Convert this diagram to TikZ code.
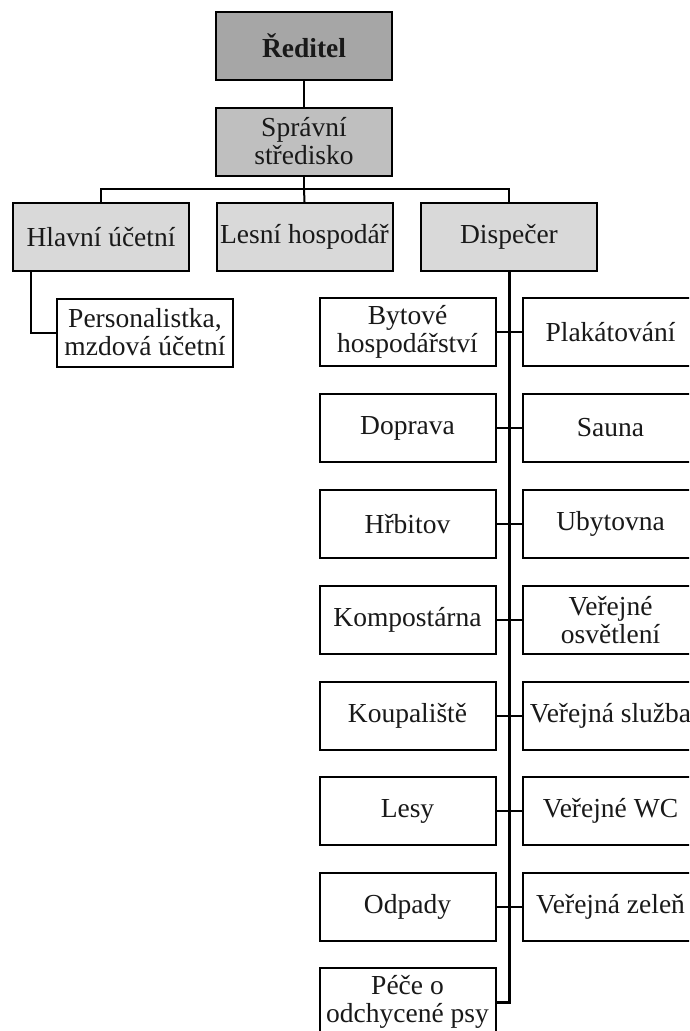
\documentclass[tikz,border=0pt]{standalone}
\usepackage{fontspec}
\setmainfont{Liberation Serif}
\begin{document}
\begin{tikzpicture}[x=1pt,y=-1pt,
  box/.style={draw=black,line width=2pt,minimum width=176pt,minimum height=68pt,inner sep=0pt,align=center,font=\fontsize{27.5}{28}\selectfont,text=black!90},
  dark/.style={box,fill=black!35},
  mid/.style={box,fill=black!25},
  light/.style={box,fill=black!15},
  white/.style={box,fill=white},
  conn/.style={draw=black,line width=2pt},
  trunk/.style={draw=black,line width=3pt}]
\useasboundingbox (0,0) rectangle (689,1031);
\clip (0,0) rectangle (689,1031);
\node[dark] (red) at (304,45.5) {\textbf{Ředitel}};
\node[mid] (spr) at (304,141.5) {Správní\\středisko};
\node[light] (hl) at (101,237) {Hlavní účetní};
\node[light] (les) at (304.5,237) {Lesní hospodář};
\node[light] (disp) at (509,237) {Dispečer};
\node[white] (pers) at (145,332.5) {Personalistka,\\mzdová účetní};
% left column
\node[white] (l1) at (407.5,332) {Bytové\\hospodářství};
\node[white] (l2) at (407.5,428) {Doprava};
\node[white] (l3) at (407.5,524) {Hřbitov};
\node[white] (l4) at (407.5,620) {Kompostárna};
\node[white] (l5) at (407.5,716) {Koupaliště};
\node[white] (l6) at (407.5,811) {Lesy};
\node[white] (l7) at (407.5,907) {Odpady};
\node[white] (l8) at (407.5,1002) {Péče o\\odchycené psy};
% right column
\node[white] (r1) at (610.5,332) {Plakátování};
\node[white] (r2) at (610.5,428) {Sauna};
\node[white] (r3) at (610.5,524) {Ubytovna};
\node[white] (r4) at (610.5,620) {Veřejné\\osvětlení};
\node[white] (r5) at (610.5,716) {Veřejná služba};
\node[white] (r6) at (610.5,811) {Veřejné WC};
\node[white] (r7) at (610.5,907) {Veřejná zeleň};
\coordinate (bus) at (304,189);
% connectors
\draw[conn] (red.south) -- (spr.north);
\draw[conn] (spr.south) -- (bus);
\draw[conn] (hl.north) |- (bus);
\draw[conn] (les.north) -- (bus);
\draw[conn] (disp.north) |- (bus);
\draw[conn] ([xshift=-70pt]hl.south) |- (pers.west);
\draw[trunk] (disp.south) |- (l8.east);
\foreach \n in {l1,l2,l3,l4,l5,l6,l7}{\draw[conn] (disp.south) |- (\n.east);}
\foreach \n in {r1,r2,r3,r4,r5,r6,r7}{\draw[conn] (disp.south) |- (\n.west);}
\end{tikzpicture}
\end{document}
